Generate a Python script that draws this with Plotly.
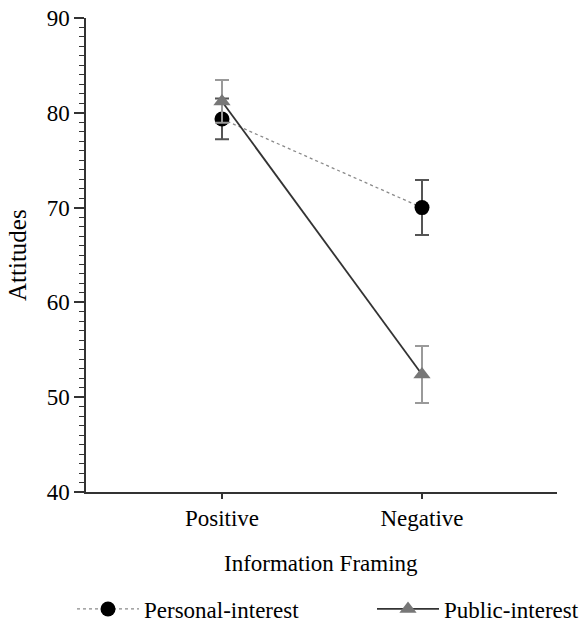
import plotly.graph_objects as go

categories = ["Positive", "Negative"]
personal_mean = [79.35, 70.0]
personal_err = [2.15, 2.9]
public_mean = [81.2, 52.4]
public_err = [2.25, 3.0]

FONT = "Liberation Serif"

fig = go.Figure()
fig.add_trace(go.Scatter(
    x=[0, 1], y=personal_mean, name="Personal-interest", mode="lines+markers",
    line=dict(color="#8a8a8a", width=1.3, dash="dot"),
    marker=dict(symbol="circle", size=15, color="black"),
    error_y=dict(type="data", array=personal_err, visible=True, color="#555555", thickness=2, width=7),
    legend="legend",
))
fig.add_trace(go.Scatter(
    x=[0, 1], y=public_mean, name="Public-interest", mode="lines+markers",
    line=dict(color="#333333", width=1.8),
    marker=dict(symbol="triangle-up", size=15, color="#777777"),
    error_y=dict(type="data", array=public_err, visible=True, color="#9a9a9a", thickness=2, width=7),
    legend="legend2",
))

legend_common = dict(xref="container", yref="container", yanchor="middle", xanchor="left",
                     font=dict(family=FONT, size=23), itemwidth=62, bgcolor="rgba(0,0,0,0)")

fig.update_layout(
    width=585, height=624,
    margin=dict(l=86, r=28, t=18, b=132, autoexpand=False),
    paper_bgcolor="white", plot_bgcolor="white",
    font=dict(family=FONT, size=23, color="black"),
    showlegend=True,
    legend=dict(x=72 / 585, y=1 - 609 / 624, **legend_common),
    legend2=dict(x=372 / 585, y=1 - 609 / 624, **legend_common),
    xaxis=dict(
        range=[-0.68, 1.675], tickmode="array", tickvals=[0, 1], ticktext=categories,
        showgrid=False, zeroline=False, showline=True, linecolor="#333333", linewidth=1.5,
        ticks="outside", ticklen=5, tickcolor="#333333", tickwidth=1.5,
        tickfont=dict(family=FONT, size=23), automargin=False, tickangle=0,
    ),
    yaxis=dict(
        range=[40, 90], tickmode="array", tickvals=[40, 50, 60, 70, 80, 90],
        showgrid=False, zeroline=False, showline=True, linecolor="#333333", linewidth=1.5,
        ticks="outside", ticklen=10, tickcolor="#333333", tickwidth=1.5,
        tickfont=dict(family=FONT, size=23), automargin=False,
        minor=dict(tickmode="linear", tick0=40, dtick=1, ticks="outside", ticklen=5,
                   tickcolor="#333333", tickwidth=1.2, showgrid=False),
    ),
    annotations=[
        dict(text="Attitudes", xref="paper", yref="paper", x=-(86 - 17) / 471, y=0.5,
             xanchor="center", yanchor="middle", textangle=-90, showarrow=False,
             font=dict(family=FONT, size=25)),
        dict(text="Information Framing", xref="paper", yref="paper", x=0.5 - (86 + 471 / 2 - 321) / 471,
             y=-(563 - 492) / 474, xanchor="center", yanchor="middle", showarrow=False,
             font=dict(family=FONT, size=23)),
    ],
)

fig.write_html("out.html", config={"displayModeBar": False},
               post_script="document.body.style.margin='0px';")
